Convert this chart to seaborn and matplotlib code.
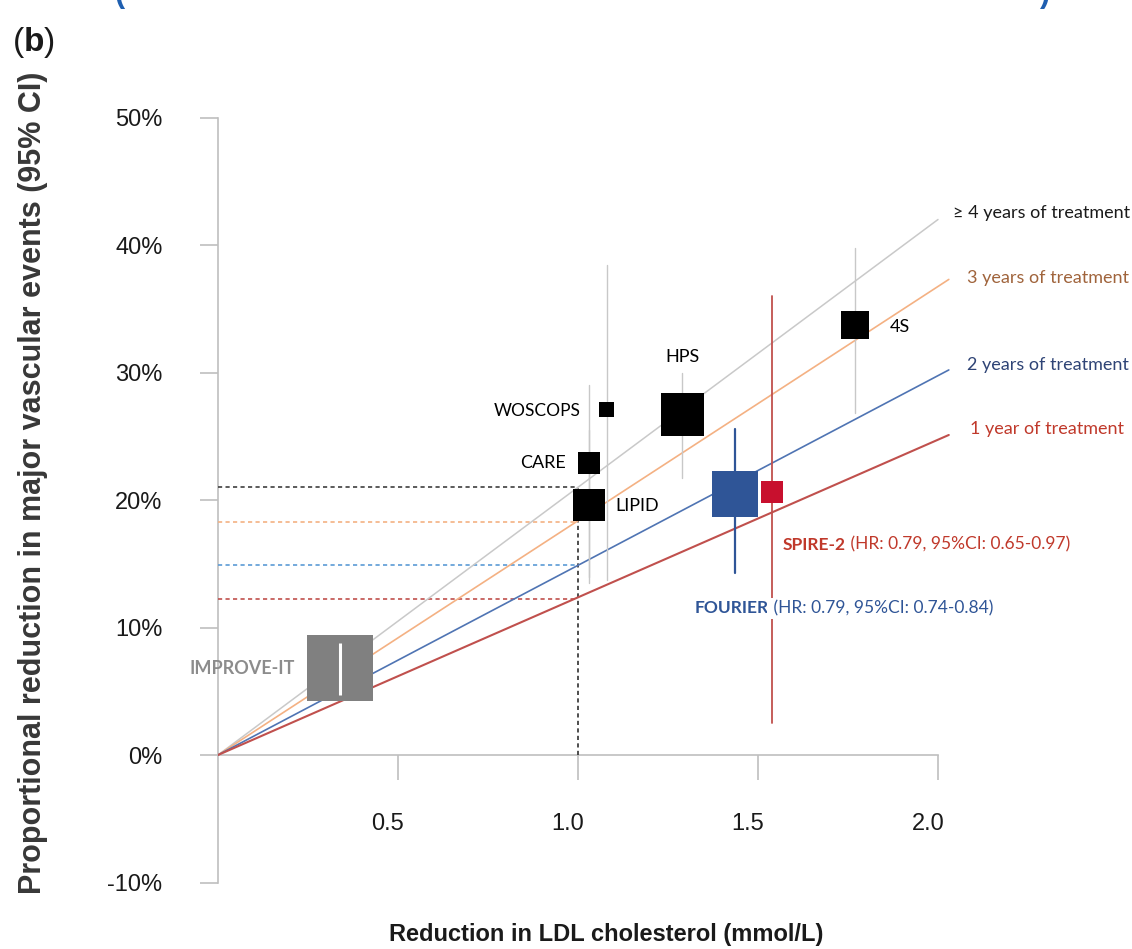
import matplotlib
matplotlib.use("Agg")
import matplotlib.pyplot as plt
from matplotlib.transforms import ScaledTranslation
import seaborn as sns
import pandas as pd

# ---------------- data ----------------
treat_labels = ["≥ 4 years of treatment", "3 years of treatment",
                "2 years of treatment", "1 year of treatment"]
treat_end_x = [2.0, 2.03, 2.03, 2.03]          # mmol/L where each line ends
treat_end_y = [42.0, 37.3, 30.2, 25.1]         # % at that end
treat_at_1mmol = [21.0, 18.3, 14.9, 12.2]      # % reduction per 1 mmol/L

trials = ["IMPROVE-IT", "LIPID", "CARE", "WOSCOPS", "HPS", "4S", "FOURIER", "SPIRE-2"]
ldl_reduction = [0.34, 1.03, 1.03, 1.08, 1.29, 1.77, 1.435, 1.54]
risk_reduction = [6.8, 19.6, 22.9, 27.1, 26.7, 33.7, 20.5, 20.6]
ci_low = [4.7, 14.0, 13.5, 13.7, 21.7, 26.8, 14.3, 2.5]
ci_high = [8.8, 25.5, 29.0, 38.4, 30.0, 39.8, 25.6, 36.0]

y_ticks = [-10, 0, 10, 20, 30, 40, 50]
x_ticks = [0.5, 1.0, 1.5, 2.0]

fourier_note = "(HR: 0.79, 95%CI: 0.74-0.84)"
spire_note = "(HR: 0.79, 95%CI: 0.65-0.97)"

# ---------------- styles ----------------
W, H = 1132, 949
X0_PX, Y0_PX = 218, 755       # pixel of origin
PX_PER_X, PX_PER_Y = 360, 12.75

treat_line_colors = ["#c9c9c9", "#f4b183", "#4f74b3", "#c0504d"]
treat_text_colors = ["#1a1a1a", "#a0643c", "#2f4476", "#c0392b"]
dash_colors = ["#404040", "#f4b183", "#5b9bd5", "#c0504d"]
square_px = [66, 32, 22, 15, 43, 28, 46, 22]
square_colors = ["#808080", "black", "black", "black", "black", "black", "#2f5597", "#c8102e"]
ci_colors = ["white", "#c8c8c8", "#c8c8c8", "#c8c8c8", "#c8c8c8", "#c8c8c8", "#2f5597", "#c0504d"]
ci_widths = [2.2, 1.0, 1.0, 1.0, 1.0, 1.0, 1.6, 1.3]

sns.set_theme(style="white")
plt.rcParams["font.family"] = ["Liberation Sans", "DejaVu Sans"]
plt.rcParams["mathtext.fontset"] = "custom"
plt.rcParams["mathtext.rm"] = "Liberation Sans"
plt.rcParams["mathtext.bf"] = "Liberation Sans:bold"

fig = plt.figure(figsize=(W / 100, H / 100), dpi=100)
ax = fig.add_axes([X0_PX / W, 0, (W - X0_PX) / W, 1])
ax.set_xlim(0, (W - X0_PX) / PX_PER_X)
ax.set_ylim(-(H - Y0_PX) / PX_PER_Y, Y0_PX / PX_PER_Y)
ax.patch.set_alpha(0)

# treatment lines
rows = []
for lab, ex, ey in zip(treat_labels, treat_end_x, treat_end_y):
    rows.append({"label": lab, "x": 0.0, "y": 0.0})
    rows.append({"label": lab, "x": ex, "y": ey})
df_lines = pd.DataFrame(rows)
lw_map = {treat_labels[0]: 1.1, treat_labels[1]: 1.2, treat_labels[2]: 1.2, treat_labels[3]: 1.5}
for lab, col in zip(treat_labels, treat_line_colors):
    sns.lineplot(data=df_lines[df_lines["label"] == lab], x="x", y="y", color=col,
                 lw=lw_map[lab], ax=ax, legend=False, sort=False, zorder=2)

# dashed reference lines at 1 mmol/L
ref_x = 1.0
for val, col in zip(treat_at_1mmol, dash_colors):
    ax.plot([0, ref_x], [val, val], color=col, lw=1.2, ls=(0, (2.5, 2)), zorder=1.5)
ax.plot([ref_x, ref_x], [0, max(treat_at_1mmol)], color="#303030", lw=1.2,
        ls=(0, (2.5, 2)), zorder=1.5)

# treatment labels
label_pos = [(2.042, 42.5), (2.081, 37.4), (2.081, 30.6), (2.089, 25.6)]
for lab, (tx, ty), col in zip(treat_labels, label_pos, treat_text_colors):
    ax.text(tx, ty, lab, color=col, fontsize=13, family=["Lato", "DejaVu Sans"],
            ha="left", va="center")

# confidence intervals (behind squares)
for i, t in enumerate(trials):
    if t == "IMPROVE-IT":
        continue
    ax.plot([ldl_reduction[i]] * 2, [ci_low[i], ci_high[i]], color=ci_colors[i],
            lw=ci_widths[i], zorder=3)

# squares
df_tr = pd.DataFrame({"trial": trials, "ldl": ldl_reduction, "risk": risk_reduction})
sns.scatterplot(data=df_tr, x="ldl", y="risk", hue="trial",
                palette=dict(zip(trials, square_colors)),
                size="trial", sizes={t: (p * 0.72) ** 2 for t, p in zip(trials, square_px)},
                marker="s", linewidth=0, legend=False, ax=ax, zorder=4)

# IMPROVE-IT CI drawn in white on top
i = trials.index("IMPROVE-IT")
ax.plot([ldl_reduction[i]] * 2, [ci_low[i], ci_high[i]], color=ci_colors[i],
        lw=ci_widths[i], zorder=5, solid_capstyle="butt")

# trial labels
lato = ["Lato", "DejaVu Sans"]
ax.text(0.214, 6.8, "IMPROVE-IT", color="#8c8c8c", fontsize=13, family=lato,
        weight="bold", ha="right", va="center", zorder=6)
ax.text(1.006, 27.0, "WOSCOPS", color="black", fontsize=12.5, family=lato, ha="right", va="center")
ax.text(0.967, 22.9, "CARE", color="black", fontsize=13, family=lato, ha="right", va="center")
ax.text(1.103, 19.5, "LIPID", color="black", fontsize=13, family=lato, ha="left", va="center")
ax.text(1.289, 31.2, "HPS", color="black", fontsize=13, family=lato, ha="center", va="center")
ax.text(1.867, 33.6, "4S", color="black", fontsize=13, family=lato, ha="left", va="center")

t1 = ax.text(1.569, 16.5, "SPIRE-2", color="#c0392b", fontsize=12.5, family=lato,
             weight="bold", ha="left", va="center", zorder=6)
ax.annotate(" " + spire_note, xy=(1, 0.5), xycoords=t1, color="#c0392b", fontsize=12.5,
            family=lato, ha="left", va="center", zorder=6)
t2 = ax.text(1.325, 11.5, "FOURIER", color="#2f5597", fontsize=12.5, family=lato,
             weight="bold", ha="left", va="center", zorder=6,
             bbox=dict(facecolor="white", edgecolor="none", pad=1.5))
ax.annotate(" " + fourier_note, xy=(1, 0.5), xycoords=t2, color="#2f5597", fontsize=12.5,
            family=lato, ha="left", va="center", zorder=6,
            bbox=dict(facecolor="white", edgecolor="none", pad=1.5))

# axes styling
for s in ["top", "right"]:
    ax.spines[s].set_visible(False)
ax.spines["left"].set_bounds(min(y_ticks), max(y_ticks))
ax.spines["bottom"].set_bounds(0, max(x_ticks))
ax.spines["bottom"].set_position(("data", 0))
for s in ["left", "bottom"]:
    ax.spines[s].set_color("#bfbfbf")
    ax.spines[s].set_linewidth(1.2)
    ax.spines[s].set_zorder(1)

ax.set_yticks(y_ticks)
ax.set_yticklabels([f"{v}%" for v in y_ticks])
ax.set_xticks(x_ticks)
ax.set_xticklabels([f"{v:.1f}" for v in x_ticks])
ax.tick_params(axis="y", direction="out", length=13, width=1.2, color="#bfbfbf",
               pad=27, labelsize=17, labelcolor="#1a1a1a", left=True)
ax.tick_params(axis="x", direction="out", length=18, width=1.2, color="#bfbfbf",
               pad=24, labelsize=17, labelcolor="#1a1a1a", bottom=True)
shift = ScaledTranslation(-10 / 100, 0, fig.dpi_scale_trans)
for lbl in ax.get_xticklabels():
    lbl.set_transform(lbl.get_transform() + shift)
ax.set_xlabel("")
ax.set_ylabel("")

# axis titles
fig.text(389 / W, 1 - 935 / H, "Reduction in LDL cholesterol (mmol/L)", fontsize=17,
         weight="bold", color="#1a1a1a", ha="left", va="center")
fig.text(33 / W, 1 - 483 / H, "Proportional reduction in major vascular events (95% CI)",
         fontsize=22, weight="bold", color="#383838", rotation=90,
         ha="center", va="center")

# panel label and clipped title above
fig.text(12 / W, 1 - 42 / H, r"($\mathbf{b}$)", fontsize=24, color="#1a1a1a",
         ha="left", va="center")
fig.text(120 / W, 1 - 9 / H, "(", fontsize=22, color="#1f5fb0", weight="bold",
         ha="center", va="bottom")
fig.text(1045 / W, 1 - 9 / H, ")", fontsize=22, color="#1f5fb0", weight="bold",
         ha="center", va="bottom")

fig.savefig("out.png", dpi=100)
